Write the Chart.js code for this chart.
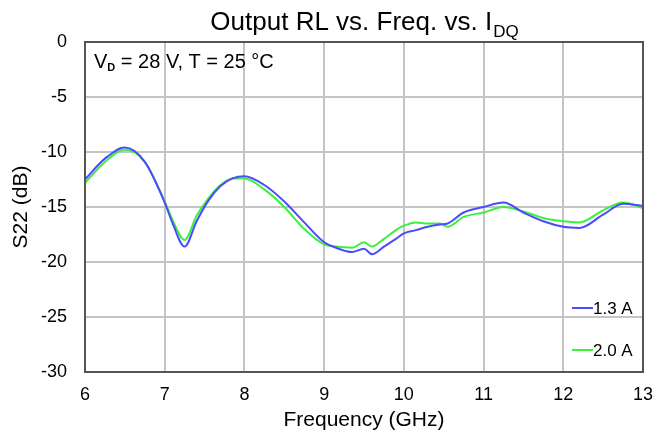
<!DOCTYPE html>
<html>
<head>
<meta charset="utf-8">
<script src="https://cdn.jsdelivr.net/npm/chart.js@4/dist/chart.umd.min.js"></script>
<style>
  html, body { margin: 0; padding: 0; background: #fff; }
  #wrap { width: 655px; height: 437px; }
</style>
</head>
<body>
<div id="wrap"><canvas id="c" width="655" height="437"></canvas></div>
<script>
// frequency points (GHz)
const freq = [6.0, 6.25, 6.5, 6.75, 7.0, 7.1, 7.25, 7.4, 7.55, 7.7, 7.85, 8.0,
  8.25, 8.5, 8.75, 9.0, 9.15, 9.35, 9.5, 9.6, 9.75, 9.9, 10.0, 10.15, 10.3,
  10.45, 10.55, 10.75, 11.0, 11.25, 11.5, 11.75, 12.0, 12.2, 12.5, 12.75, 13.0];

// S22 (dB) for Idq = 1.3 A
const s22_13A = [-12.5, -10.6, -9.6, -10.9, -14.6, -16.5, -18.6, -16.3, -14.4, -13.1, -12.4, -12.2,
  -13.0, -14.5, -16.4, -18.2, -18.7, -19.1, -18.8, -19.3, -18.6, -17.9, -17.4, -17.1, -16.8,
  -16.6, -16.5, -15.5, -15.0, -14.6, -15.5, -16.3, -16.8, -16.9, -15.7, -14.7, -14.9];

// S22 (dB) for Idq = 2.0 A
const s22_20A = [-12.8, -10.9, -9.8, -10.9, -14.5, -16.2, -18.0, -15.8, -14.2, -13.0, -12.4, -12.4,
  -13.4, -15.0, -17.0, -18.4, -18.6, -18.7, -18.2, -18.6, -17.9, -17.1, -16.7, -16.4, -16.5,
  -16.5, -16.8, -15.9, -15.5, -15.0, -15.4, -16.0, -16.3, -16.4, -15.3, -14.6, -15.1];

const seriesNames = ['1.3 A', '2.0 A'];
const seriesColors = ['#4a4aff', '#3cf03c'];
const xTicks = [6, 7, 8, 9, 10, 11, 12, 13];
const yTicks = [0, -5, -10, -15, -20, -25, -30];

const FONT = '"Liberation Sans", Arial, sans-serif';

function toPoints(xs, ys) {
  return xs.map((x, i) => ({ x: x, y: ys[i] }));
}

// title, annotation, frame and legend drawn by hand (subscripts)
const decorPlugin = {
  id: 'decor',
  afterDraw(chart) {
    const ctx = chart.ctx;
    const a = chart.chartArea;
    ctx.save();

    // frame
    ctx.strokeStyle = '#555';
    ctx.lineWidth = 2;
    ctx.strokeRect(a.left, a.top, a.right - a.left, a.bottom - a.top);

    // title with subscript, centred over the plot
    ctx.fillStyle = '#000';
    ctx.textBaseline = 'alphabetic';
    ctx.textAlign = 'left';
    const main = 'Output RL vs. Freq. vs. I';
    ctx.font = '17px ' + FONT;
    const subW = ctx.measureText('DQ').width;
    ctx.font = '26px ' + FONT;
    const mainW = ctx.measureText(main).width;
    const tx = (a.left + a.right) / 2 - (mainW + subW) / 2;
    ctx.fillText(main, tx, 30);
    ctx.font = '17px ' + FONT;
    ctx.fillText('DQ', tx + mainW + 1, 37);

    // condition note
    let x = a.left + 9;
    ctx.font = '20px ' + FONT;
    ctx.fillText('V', x, 68);
    x += ctx.measureText('V').width;
    ctx.font = 'bold 11px ' + FONT;
    ctx.fillText('D', x, 71);
    x += ctx.measureText('D').width;
    ctx.font = '20px ' + FONT;
    ctx.fillText(' = 28 V, T = 25 \u00b0C', x, 68);

    // legend at lower right
    ctx.font = '17px ' + FONT;
    ctx.textBaseline = 'middle';
    const ly = [308, 350];
    chart.data.datasets.forEach((ds, i) => {
      ctx.strokeStyle = ds.borderColor;
      ctx.lineWidth = 2;
      ctx.beginPath();
      ctx.moveTo(572, ly[i]);
      ctx.lineTo(593, ly[i]);
      ctx.stroke();
      ctx.fillStyle = '#000';
      ctx.fillText(ds.label, 593, ly[i] + 1);
    });

    ctx.restore();
  }
};

new Chart(document.getElementById('c'), {
  type: 'line',
  data: {
    datasets: [
      {
        label: seriesNames[0],
        data: toPoints(freq, s22_13A),
        borderColor: seriesColors[0],
        borderWidth: 2,
        pointRadius: 0,
        cubicInterpolationMode: 'monotone',
        fill: false
      },
      {
        label: seriesNames[1],
        data: toPoints(freq, s22_20A),
        borderColor: seriesColors[1],
        borderWidth: 2,
        pointRadius: 0,
        cubicInterpolationMode: 'monotone',
        fill: false
      }
    ]
  },
  options: {
    responsive: false,
    animation: false,
    devicePixelRatio: 1,
    layout: { padding: { top: 42, right: 12, left: 0, bottom: 0 } },
    plugins: {
      legend: { display: false },
      title: { display: false },
      tooltip: { enabled: false }
    },
    scales: {
      x: {
        type: 'linear',
        min: 6,
        max: 13,
        afterBuildTicks(axis) { axis.ticks = xTicks.map(v => ({ value: v })); },
        afterFit(axis) {
          axis.height = 65;
          axis.paddingLeft = 0;
          axis.paddingRight = 0;
        },
        grid: { color: '#c4c4c4', lineWidth: 2, drawTicks: false },
        border: { display: false },
        ticks: {
          color: '#000',
          padding: 12,
          font: { family: FONT, size: 18 }
        },
        title: {
          display: true,
          text: 'Frequency (GHz)',
          color: '#000',
          padding: { top: 0, bottom: 4 },
          font: { family: FONT, size: 21 }
        }
      },
      y: {
        min: -30,
        max: 0,
        afterBuildTicks(axis) { axis.ticks = yTicks.map(v => ({ value: v })); },
        afterFit(axis) {
          axis.width = 85;
          axis.paddingTop = 0;
          axis.paddingBottom = 0;
        },
        grid: { color: '#c4c4c4', lineWidth: 2, drawTicks: false },
        border: { display: false },
        ticks: {
          color: '#000',
          padding: 18,
          font: { family: FONT, size: 18 }
        },
        title: {
          display: true,
          text: 'S22 (dB)',
          color: '#000',
          padding: { top: 9, bottom: 0 },
          font: { family: FONT, size: 21 }
        }
      }
    }
  },
  plugins: [decorPlugin]
});
</script>
</body>
</html>
